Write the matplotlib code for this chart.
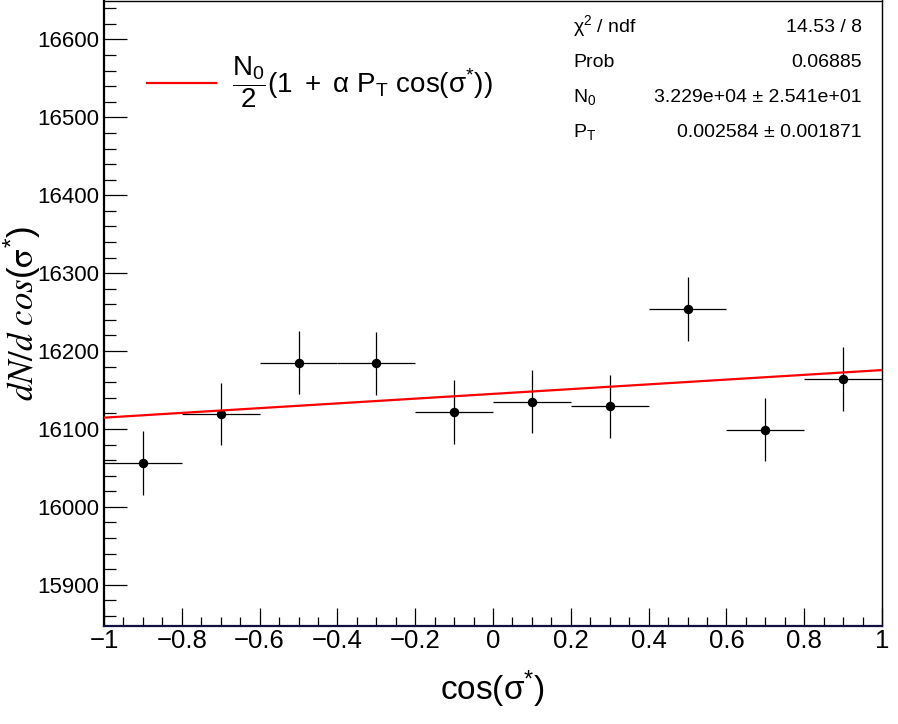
import matplotlib
matplotlib.use("Agg")
import matplotlib.pyplot as plt
from matplotlib.ticker import FixedLocator, MultipleLocator
import numpy as np

# ---------------- data ----------------
bin_centers = [-0.9, -0.7, -0.5, -0.3, -0.1, 0.1, 0.3, 0.5, 0.7, 0.9]
counts = [16056, 16119, 16185, 16184, 16122, 16135, 16129, 16254, 16099, 16164]
count_errors = [40.8, 40.2, 40.8, 40.6, 40.8, 40.8, 40.8, 40.8, 40.8, 40.8]
bin_halfwidth = [0.1] * 10

# fit parameters (from the stats box)
N0 = 3.229e4
PT = 0.002584
alpha = 0.732
fit_range = [-1.0, 1.0]

xtick_vals = [-1, -0.8, -0.6, -0.4, -0.2, 0, 0.2, 0.4, 0.6, 0.8, 1]
xtick_labels = ["\u22121", "\u22120.8", "\u22120.6", "\u22120.4", "\u22120.2", "0",
                "0.2", "0.4", "0.6", "0.8", "1"]
ytick_vals = [15900, 16000, 16100, 16200, 16300, 16400, 16500, 16600]
ytick_labels = ["15900", "16000", "16100", "16200", "16300", "16400", "16500", "16600"]

stats_names = [r"$\chi^{2}$ / ndf", "Prob", r"N$_{0}$", r"P$_{T}$"]
stats_values = ["14.53 / 8", "0.06885", "3.229e+04 \u00b1 2.541e+01", "0.002584 \u00b1 0.001871"]

# ---------------- style ----------------
plt.rcParams['font.family'] = ['Liberation Sans', 'DejaVu Sans']
plt.rcParams['mathtext.fontset'] = 'custom'
plt.rcParams['mathtext.rm'] = 'Liberation Sans'
plt.rcParams['mathtext.it'] = 'Liberation Sans:italic'
plt.rcParams['mathtext.bf'] = 'Liberation Sans:bold'
plt.rcParams['mathtext.default'] = 'regular'

W, H = 898, 724
fig = plt.figure(figsize=(W / 100, H / 100), dpi=100)
fig.patch.set_facecolor('white')

L, R, T, B = 104, 882, 0.5, 626
ax = fig.add_axes([L / W, 1 - B / H, (R - L) / W, (B - T) / H])

ax.errorbar(bin_centers, counts, yerr=count_errors, xerr=bin_halfwidth,
            fmt='o', color='black', markersize=5.8, elinewidth=0.9,
            capsize=0, zorder=3)

xf = np.linspace(fit_range[0], fit_range[1], 200)
yf = N0 / 2 * (1 + alpha * PT * xf)
fit_line, = ax.plot(xf, yf, color='#ff0000', lw=1.6, zorder=4)

ax.set_xlim(-1, 1)
ax.set_ylim(15847, 16650)

ax.xaxis.set_major_locator(FixedLocator(xtick_vals))
ax.set_xticklabels(xtick_labels)
ax.xaxis.set_minor_locator(MultipleLocator(0.05))
ax.yaxis.set_major_locator(FixedLocator(ytick_vals))
ax.set_yticklabels(ytick_labels)
ax.yaxis.set_minor_locator(MultipleLocator(20))

ax.tick_params(axis='both', which='both', direction='in', top=False, right=False, width=0.9)
ax.tick_params(axis='y', which='major', length=16.5, labelsize=16, pad=3.5)
ax.tick_params(axis='y', which='minor', length=8.4)
ax.tick_params(axis='x', which='major', length=13, labelsize=18.5, pad=2)
ax.tick_params(axis='x', which='minor', length=6.5)

ax.spines['left'].set_linewidth(1.6)
ax.spines['bottom'].set_linewidth(1.6)
ax.spines['bottom'].set_color('#101040')
ax.spines['top'].set_linewidth(1.0)
ax.spines['right'].set_linewidth(1.0)

ax.set_xlabel(r"cos($\sigma^{*}$)", fontsize=24, va='baseline')
ax.xaxis.set_label_coords(0.5, (B - 700) / (B - T))
ax.set_ylabel(r"$\mathit{dN/d\ cos}(\mathrm{\sigma}^{*})$", fontsize=25,
              math_fontfamily='stix', va='center')
ax.yaxis.set_label_coords((22 - L) / (R - L), 0.5)

leg = ax.legend([fit_line],
                [r"$\dfrac{N_{0}}{2}(1\ +\ \alpha\ P_{T}\ cos(\sigma^{*}))$"],
                loc='center left', bbox_to_anchor=(147 / W, 1 - 82 / H),
                bbox_transform=fig.transFigure, frameon=False, fontsize=20,
                handlelength=2.5, handletextpad=0.55, borderpad=0, borderaxespad=0)

baselines = [32, 67, 102, 137]
for name, val, yb in zip(stats_names, stats_values, baselines):
    fig.text(573 / W, 1 - yb / H, name, ha='left', va='baseline', fontsize=14)
    fig.text(862 / W, 1 - yb / H, val, ha='right', va='baseline', fontsize=14)

fig.savefig("out.png", dpi=100)
